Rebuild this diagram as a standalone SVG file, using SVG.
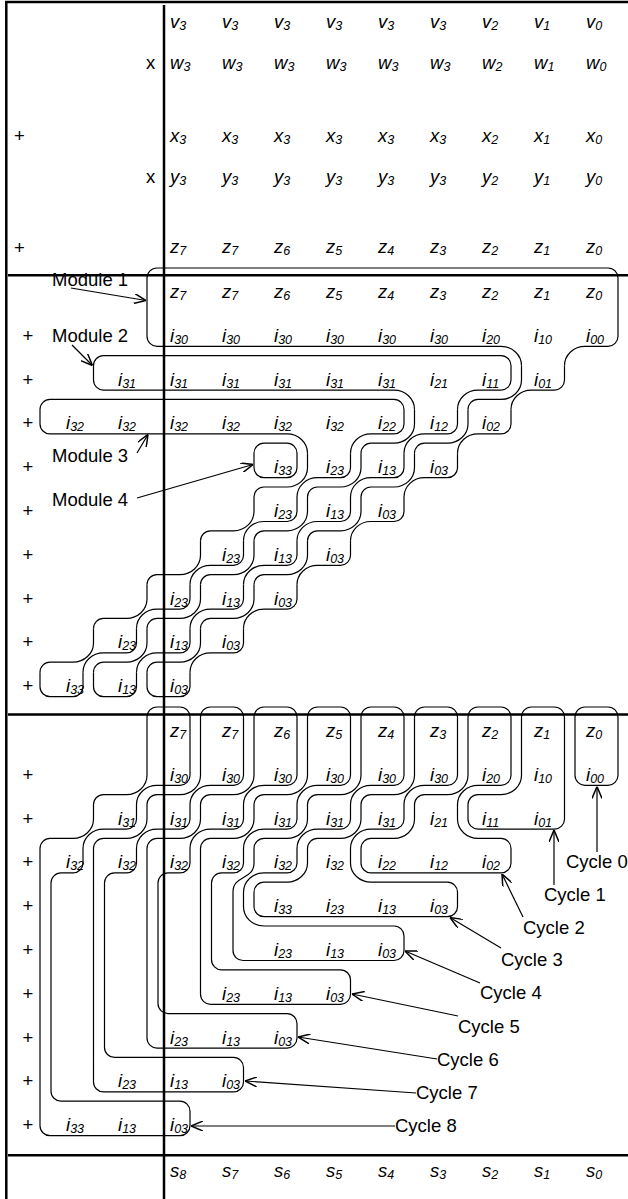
<svg xmlns="http://www.w3.org/2000/svg" width="628" height="1199" viewBox="0 0 628 1199">
<style>
text{font-family:"Liberation Sans",Arial,sans-serif;fill:#000}
.v{font-style:italic;font-size:18.5px}
.s{font-size:12.5px}
.lb{font-size:18.5px}
.sh{fill:none;stroke:#000;stroke-width:1.2;stroke-linejoin:round}
.fr{stroke:#000;stroke-width:2.5;fill:none}
.ar{fill:none;stroke:#000;stroke-width:1.2;marker-end:url(#ah)}
</style>
<defs>
<marker id="ah" viewBox="0 0 12 10" refX="12" refY="5" markerWidth="12" markerHeight="10" markerUnits="userSpaceOnUse" orient="auto"><path d="M0,0 L12,5 L0,10" fill="none" stroke="#000" stroke-width="1.5"/></marker>
<!-- one diagonal step of a chain, from cell (0,0) to cell (-1,1) -->
<g id="step"><path class="sh" d="M147,321.8 V336.3 A20.5,19.3 0 0 1 126.5,355.6 H103.5 A10,10 0 0 0 93.5,365.6"/><path class="sh" d="M190,321.8 V336.3 A10,10 0 0 1 180,346.3 H157 A20.5,19.3 0 0 0 136.5,365.6"/></g>
<!-- closed bottom of the last cell of a chain -->
<path id="tail" class="sh" d="M147,321.8 V336.3 A10,10 0 0 0 157,346.3 H180 A10,10 0 0 0 190,336.3 V321.8"/>
</defs>

<g id="frame">
<line class="fr" x1="5" y1="2" x2="628" y2="2"/>
<line class="fr" x1="6.3" y1="1" x2="6.3" y2="1199"/>
<line class="fr" x1="164" y1="5" x2="164" y2="1199"/>
<line class="fr" x1="8" y1="275.3" x2="628" y2="275.3"/>
<line class="fr" x1="8" y1="714.5" x2="628" y2="714.5"/>
<line class="fr" x1="8" y1="1155.3" x2="628" y2="1155.3"/>
</g>

<g id="operators" class="lb">
<text class="lb" x="146" y="68.5">x</text>
<text class="lb" x="146" y="183">x</text>
<text class="lb" x="14" y="141.5">+</text>
<text class="lb" x="14" y="253.5">+</text>
<text class="lb" x="22.5" y="341.8">+</text>
<text class="lb" x="22.5" y="385.6">+</text>
<text class="lb" x="22.5" y="429.4">+</text>
<text class="lb" x="22.5" y="473.2">+</text>
<text class="lb" x="22.5" y="517">+</text>
<text class="lb" x="22.5" y="560.8">+</text>
<text class="lb" x="22.5" y="604.6">+</text>
<text class="lb" x="22.5" y="648.4">+</text>
<text class="lb" x="22.5" y="692.2">+</text>
<text class="lb" x="22.5" y="780.8">+</text>
<text class="lb" x="22.5" y="824.6">+</text>
<text class="lb" x="22.5" y="868.4">+</text>
<text class="lb" x="22.5" y="912.2">+</text>
<text class="lb" x="22.5" y="956">+</text>
<text class="lb" x="22.5" y="999.8">+</text>
<text class="lb" x="22.5" y="1043.6">+</text>
<text class="lb" x="22.5" y="1087.4">+</text>
<text class="lb" x="22.5" y="1131.2">+</text>
</g>

<g id="operands">
<text class="v" x="170" y="28.3">v<tspan class="s" dy="2">3</tspan></text>
<text class="v" x="222" y="28.3">v<tspan class="s" dy="2">3</tspan></text>
<text class="v" x="274" y="28.3">v<tspan class="s" dy="2">3</tspan></text>
<text class="v" x="326" y="28.3">v<tspan class="s" dy="2">3</tspan></text>
<text class="v" x="378" y="28.3">v<tspan class="s" dy="2">3</tspan></text>
<text class="v" x="430" y="28.3">v<tspan class="s" dy="2">3</tspan></text>
<text class="v" x="482" y="28.3">v<tspan class="s" dy="2">2</tspan></text>
<text class="v" x="534" y="28.3">v<tspan class="s" dy="2">1</tspan></text>
<text class="v" x="586" y="28.3">v<tspan class="s" dy="2">0</tspan></text>
<text class="v" x="170" y="68.5">w<tspan class="s" dy="2">3</tspan></text>
<text class="v" x="222" y="68.5">w<tspan class="s" dy="2">3</tspan></text>
<text class="v" x="274" y="68.5">w<tspan class="s" dy="2">3</tspan></text>
<text class="v" x="326" y="68.5">w<tspan class="s" dy="2">3</tspan></text>
<text class="v" x="378" y="68.5">w<tspan class="s" dy="2">3</tspan></text>
<text class="v" x="430" y="68.5">w<tspan class="s" dy="2">3</tspan></text>
<text class="v" x="482" y="68.5">w<tspan class="s" dy="2">2</tspan></text>
<text class="v" x="534" y="68.5">w<tspan class="s" dy="2">1</tspan></text>
<text class="v" x="586" y="68.5">w<tspan class="s" dy="2">0</tspan></text>
<text class="v" x="170" y="141.5">x<tspan class="s" dy="2">3</tspan></text>
<text class="v" x="222" y="141.5">x<tspan class="s" dy="2">3</tspan></text>
<text class="v" x="274" y="141.5">x<tspan class="s" dy="2">3</tspan></text>
<text class="v" x="326" y="141.5">x<tspan class="s" dy="2">3</tspan></text>
<text class="v" x="378" y="141.5">x<tspan class="s" dy="2">3</tspan></text>
<text class="v" x="430" y="141.5">x<tspan class="s" dy="2">3</tspan></text>
<text class="v" x="482" y="141.5">x<tspan class="s" dy="2">2</tspan></text>
<text class="v" x="534" y="141.5">x<tspan class="s" dy="2">1</tspan></text>
<text class="v" x="586" y="141.5">x<tspan class="s" dy="2">0</tspan></text>
<text class="v" x="170" y="183">y<tspan class="s" dy="2">3</tspan></text>
<text class="v" x="222" y="183">y<tspan class="s" dy="2">3</tspan></text>
<text class="v" x="274" y="183">y<tspan class="s" dy="2">3</tspan></text>
<text class="v" x="326" y="183">y<tspan class="s" dy="2">3</tspan></text>
<text class="v" x="378" y="183">y<tspan class="s" dy="2">3</tspan></text>
<text class="v" x="430" y="183">y<tspan class="s" dy="2">3</tspan></text>
<text class="v" x="482" y="183">y<tspan class="s" dy="2">2</tspan></text>
<text class="v" x="534" y="183">y<tspan class="s" dy="2">1</tspan></text>
<text class="v" x="586" y="183">y<tspan class="s" dy="2">0</tspan></text>
<text class="v" x="170" y="253">z<tspan class="s" dy="2">7</tspan></text>
<text class="v" x="222" y="253">z<tspan class="s" dy="2">7</tspan></text>
<text class="v" x="274" y="253">z<tspan class="s" dy="2">6</tspan></text>
<text class="v" x="326" y="253">z<tspan class="s" dy="2">5</tspan></text>
<text class="v" x="378" y="253">z<tspan class="s" dy="2">4</tspan></text>
<text class="v" x="430" y="253">z<tspan class="s" dy="2">3</tspan></text>
<text class="v" x="482" y="253">z<tspan class="s" dy="2">2</tspan></text>
<text class="v" x="534" y="253">z<tspan class="s" dy="2">1</tspan></text>
<text class="v" x="586" y="253">z<tspan class="s" dy="2">0</tspan></text>
</g>

<g id="terms-modules">
<text class="v" x="170" y="298">z<tspan class="s" dy="2">7</tspan></text>
<text class="v" x="222" y="298">z<tspan class="s" dy="2">7</tspan></text>
<text class="v" x="274" y="298">z<tspan class="s" dy="2">6</tspan></text>
<text class="v" x="326" y="298">z<tspan class="s" dy="2">5</tspan></text>
<text class="v" x="378" y="298">z<tspan class="s" dy="2">4</tspan></text>
<text class="v" x="430" y="298">z<tspan class="s" dy="2">3</tspan></text>
<text class="v" x="482" y="298">z<tspan class="s" dy="2">2</tspan></text>
<text class="v" x="534" y="298">z<tspan class="s" dy="2">1</tspan></text>
<text class="v" x="586" y="298">z<tspan class="s" dy="2">0</tspan></text>
<text class="v" x="170" y="341.8">i<tspan class="s" dy="2">30</tspan></text>
<text class="v" x="222" y="341.8">i<tspan class="s" dy="2">30</tspan></text>
<text class="v" x="274" y="341.8">i<tspan class="s" dy="2">30</tspan></text>
<text class="v" x="326" y="341.8">i<tspan class="s" dy="2">30</tspan></text>
<text class="v" x="378" y="341.8">i<tspan class="s" dy="2">30</tspan></text>
<text class="v" x="430" y="341.8">i<tspan class="s" dy="2">30</tspan></text>
<text class="v" x="482" y="341.8">i<tspan class="s" dy="2">20</tspan></text>
<text class="v" x="534" y="341.8">i<tspan class="s" dy="2">10</tspan></text>
<text class="v" x="586" y="341.8">i<tspan class="s" dy="2">00</tspan></text>
<text class="v" x="118" y="385.6">i<tspan class="s" dy="2">31</tspan></text>
<text class="v" x="170" y="385.6">i<tspan class="s" dy="2">31</tspan></text>
<text class="v" x="222" y="385.6">i<tspan class="s" dy="2">31</tspan></text>
<text class="v" x="274" y="385.6">i<tspan class="s" dy="2">31</tspan></text>
<text class="v" x="326" y="385.6">i<tspan class="s" dy="2">31</tspan></text>
<text class="v" x="378" y="385.6">i<tspan class="s" dy="2">31</tspan></text>
<text class="v" x="430" y="385.6">i<tspan class="s" dy="2">21</tspan></text>
<text class="v" x="482" y="385.6">i<tspan class="s" dy="2">11</tspan></text>
<text class="v" x="534" y="385.6">i<tspan class="s" dy="2">01</tspan></text>
<text class="v" x="66" y="429.4">i<tspan class="s" dy="2">32</tspan></text>
<text class="v" x="118" y="429.4">i<tspan class="s" dy="2">32</tspan></text>
<text class="v" x="170" y="429.4">i<tspan class="s" dy="2">32</tspan></text>
<text class="v" x="222" y="429.4">i<tspan class="s" dy="2">32</tspan></text>
<text class="v" x="274" y="429.4">i<tspan class="s" dy="2">32</tspan></text>
<text class="v" x="326" y="429.4">i<tspan class="s" dy="2">32</tspan></text>
<text class="v" x="378" y="429.4">i<tspan class="s" dy="2">22</tspan></text>
<text class="v" x="430" y="429.4">i<tspan class="s" dy="2">12</tspan></text>
<text class="v" x="482" y="429.4">i<tspan class="s" dy="2">02</tspan></text>
<text class="v" x="274" y="473.2">i<tspan class="s" dy="2">33</tspan></text>
<text class="v" x="326" y="473.2">i<tspan class="s" dy="2">23</tspan></text>
<text class="v" x="378" y="473.2">i<tspan class="s" dy="2">13</tspan></text>
<text class="v" x="430" y="473.2">i<tspan class="s" dy="2">03</tspan></text>
<text class="v" x="274" y="517">i<tspan class="s" dy="2">23</tspan></text>
<text class="v" x="326" y="517">i<tspan class="s" dy="2">13</tspan></text>
<text class="v" x="378" y="517">i<tspan class="s" dy="2">03</tspan></text>
<text class="v" x="222" y="560.8">i<tspan class="s" dy="2">23</tspan></text>
<text class="v" x="274" y="560.8">i<tspan class="s" dy="2">13</tspan></text>
<text class="v" x="326" y="560.8">i<tspan class="s" dy="2">03</tspan></text>
<text class="v" x="170" y="604.6">i<tspan class="s" dy="2">23</tspan></text>
<text class="v" x="222" y="604.6">i<tspan class="s" dy="2">13</tspan></text>
<text class="v" x="274" y="604.6">i<tspan class="s" dy="2">03</tspan></text>
<text class="v" x="118" y="648.4">i<tspan class="s" dy="2">23</tspan></text>
<text class="v" x="170" y="648.4">i<tspan class="s" dy="2">13</tspan></text>
<text class="v" x="222" y="648.4">i<tspan class="s" dy="2">03</tspan></text>
<text class="v" x="66" y="692.2">i<tspan class="s" dy="2">33</tspan></text>
<text class="v" x="118" y="692.2">i<tspan class="s" dy="2">13</tspan></text>
<text class="v" x="170" y="692.2">i<tspan class="s" dy="2">03</tspan></text>
</g>

<g id="terms-cycles">
<text class="v" x="170" y="737">z<tspan class="s" dy="2">7</tspan></text>
<text class="v" x="222" y="737">z<tspan class="s" dy="2">7</tspan></text>
<text class="v" x="274" y="737">z<tspan class="s" dy="2">6</tspan></text>
<text class="v" x="326" y="737">z<tspan class="s" dy="2">5</tspan></text>
<text class="v" x="378" y="737">z<tspan class="s" dy="2">4</tspan></text>
<text class="v" x="430" y="737">z<tspan class="s" dy="2">3</tspan></text>
<text class="v" x="482" y="737">z<tspan class="s" dy="2">2</tspan></text>
<text class="v" x="534" y="737">z<tspan class="s" dy="2">1</tspan></text>
<text class="v" x="586" y="737">z<tspan class="s" dy="2">0</tspan></text>
<text class="v" x="170" y="780.8">i<tspan class="s" dy="2">30</tspan></text>
<text class="v" x="222" y="780.8">i<tspan class="s" dy="2">30</tspan></text>
<text class="v" x="274" y="780.8">i<tspan class="s" dy="2">30</tspan></text>
<text class="v" x="326" y="780.8">i<tspan class="s" dy="2">30</tspan></text>
<text class="v" x="378" y="780.8">i<tspan class="s" dy="2">30</tspan></text>
<text class="v" x="430" y="780.8">i<tspan class="s" dy="2">30</tspan></text>
<text class="v" x="482" y="780.8">i<tspan class="s" dy="2">20</tspan></text>
<text class="v" x="534" y="780.8">i<tspan class="s" dy="2">10</tspan></text>
<text class="v" x="586" y="780.8">i<tspan class="s" dy="2">00</tspan></text>
<text class="v" x="118" y="824.6">i<tspan class="s" dy="2">31</tspan></text>
<text class="v" x="170" y="824.6">i<tspan class="s" dy="2">31</tspan></text>
<text class="v" x="222" y="824.6">i<tspan class="s" dy="2">31</tspan></text>
<text class="v" x="274" y="824.6">i<tspan class="s" dy="2">31</tspan></text>
<text class="v" x="326" y="824.6">i<tspan class="s" dy="2">31</tspan></text>
<text class="v" x="378" y="824.6">i<tspan class="s" dy="2">31</tspan></text>
<text class="v" x="430" y="824.6">i<tspan class="s" dy="2">21</tspan></text>
<text class="v" x="482" y="824.6">i<tspan class="s" dy="2">11</tspan></text>
<text class="v" x="534" y="824.6">i<tspan class="s" dy="2">01</tspan></text>
<text class="v" x="66" y="868.4">i<tspan class="s" dy="2">32</tspan></text>
<text class="v" x="118" y="868.4">i<tspan class="s" dy="2">32</tspan></text>
<text class="v" x="170" y="868.4">i<tspan class="s" dy="2">32</tspan></text>
<text class="v" x="222" y="868.4">i<tspan class="s" dy="2">32</tspan></text>
<text class="v" x="274" y="868.4">i<tspan class="s" dy="2">32</tspan></text>
<text class="v" x="326" y="868.4">i<tspan class="s" dy="2">32</tspan></text>
<text class="v" x="378" y="868.4">i<tspan class="s" dy="2">22</tspan></text>
<text class="v" x="430" y="868.4">i<tspan class="s" dy="2">12</tspan></text>
<text class="v" x="482" y="868.4">i<tspan class="s" dy="2">02</tspan></text>
<text class="v" x="274" y="912.2">i<tspan class="s" dy="2">33</tspan></text>
<text class="v" x="326" y="912.2">i<tspan class="s" dy="2">23</tspan></text>
<text class="v" x="378" y="912.2">i<tspan class="s" dy="2">13</tspan></text>
<text class="v" x="430" y="912.2">i<tspan class="s" dy="2">03</tspan></text>
<text class="v" x="274" y="956">i<tspan class="s" dy="2">23</tspan></text>
<text class="v" x="326" y="956">i<tspan class="s" dy="2">13</tspan></text>
<text class="v" x="378" y="956">i<tspan class="s" dy="2">03</tspan></text>
<text class="v" x="222" y="999.8">i<tspan class="s" dy="2">23</tspan></text>
<text class="v" x="274" y="999.8">i<tspan class="s" dy="2">13</tspan></text>
<text class="v" x="326" y="999.8">i<tspan class="s" dy="2">03</tspan></text>
<text class="v" x="170" y="1043.6">i<tspan class="s" dy="2">23</tspan></text>
<text class="v" x="222" y="1043.6">i<tspan class="s" dy="2">13</tspan></text>
<text class="v" x="274" y="1043.6">i<tspan class="s" dy="2">03</tspan></text>
<text class="v" x="118" y="1087.4">i<tspan class="s" dy="2">23</tspan></text>
<text class="v" x="170" y="1087.4">i<tspan class="s" dy="2">13</tspan></text>
<text class="v" x="222" y="1087.4">i<tspan class="s" dy="2">03</tspan></text>
<text class="v" x="66" y="1131.2">i<tspan class="s" dy="2">33</tspan></text>
<text class="v" x="118" y="1131.2">i<tspan class="s" dy="2">13</tspan></text>
<text class="v" x="170" y="1131.2">i<tspan class="s" dy="2">03</tspan></text>
</g>

<g id="sums">
<text class="v" x="170" y="1177">s<tspan class="s" dy="2">8</tspan></text>
<text class="v" x="222" y="1177">s<tspan class="s" dy="2">7</tspan></text>
<text class="v" x="274" y="1177">s<tspan class="s" dy="2">6</tspan></text>
<text class="v" x="326" y="1177">s<tspan class="s" dy="2">5</tspan></text>
<text class="v" x="378" y="1177">s<tspan class="s" dy="2">4</tspan></text>
<text class="v" x="430" y="1177">s<tspan class="s" dy="2">3</tspan></text>
<text class="v" x="482" y="1177">s<tspan class="s" dy="2">2</tspan></text>
<text class="v" x="534" y="1177">s<tspan class="s" dy="2">1</tspan></text>
<text class="v" x="586" y="1177">s<tspan class="s" dy="2">0</tspan></text>
</g>

<g id="module-1">
<path class="sh" d="M501,346.3 H157 A10,10 0 0 1 147,336.3 V278 A10,10 0 0 1 157,268 H608 A10,10 0 0 1 618,278 V336.3 A10,10 0 0 1 608,346.3 H585 A20.5,19.3 0 0 0 564.5,365.6"/>
<path class="sh" d="M501,346.3 A20.5,19.3 0 0 1 521.5,365.6"/>
<use href="#step" transform="translate(374.5,43.8)"/>
<use href="#step" transform="translate(321,87.6)"/>
<use href="#step" transform="translate(267.5,131.4)"/>
<use href="#step" transform="translate(214,175.2)"/>
<use href="#step" transform="translate(160.5,219)"/>
<use href="#step" transform="translate(107,262.8)"/>
<use href="#step" transform="translate(53.5,306.6)"/>
<use href="#tail" transform="translate(0,350.4)"/>
</g>
<g id="module-2">
<path class="sh" d="M394,390.1 H103.5 A10,10 0 0 1 93.5,380.1 V365.6 A10,10 0 0 1 103.5,355.6 H501 A10,10 0 0 1 511,365.6 V380.1 A10,10 0 0 1 501,390.1 H478 A20.5,19.3 0 0 0 457.5,409.4"/>
<path class="sh" d="M394,390.1 A20.5,19.3 0 0 1 414.5,409.4"/>
<use href="#step" transform="translate(267.5,87.6)"/>
<use href="#step" transform="translate(214,131.4)"/>
<use href="#step" transform="translate(160.5,175.2)"/>
<use href="#step" transform="translate(107,219)"/>
<use href="#step" transform="translate(53.5,262.8)"/>
<use href="#step" transform="translate(0,306.6)"/>
<use href="#tail" transform="translate(-53.5,350.4)"/>
</g>
<g id="module-3">
<path class="sh" d="M287,433.9 H50 A10,10 0 0 1 40,423.9 V409.4 A10,10 0 0 1 50,399.4 H394 A10,10 0 0 1 404,409.4 V423.9 A10,10 0 0 1 394,433.9 H371 A20.5,19.3 0 0 0 350.5,453.2"/>
<path class="sh" d="M287,433.9 A20.5,19.3 0 0 1 307.5,453.2"/>
<use href="#step" transform="translate(160.5,131.4)"/>
<use href="#step" transform="translate(107,175.2)"/>
<use href="#step" transform="translate(53.5,219)"/>
<use href="#step" transform="translate(0,262.8)"/>
<use href="#step" transform="translate(-53.5,306.6)"/>
<use href="#tail" transform="translate(-107,350.4)"/>
</g>
<g id="module-4">
<rect class="sh" x="254" y="443.2" width="43" height="34.5" rx="10"/>
</g>

<g id="cycle-0"><rect class="sh" x="575" y="707" width="43" height="78.3" rx="10"/></g>
<g id="cycle-1"><path class="sh" d="M521.5,717 A10,10 0 0 1 531.5,707 H554.5 A10,10 0 0 1 564.5,717 V819.1 A10,10 0 0 1 554.5,829.1 H478 A10,10 0 0 1 468,819.1 V804.6 A10,10 0 0 1 478,794.6 H501 A20.5,19.3 0 0 0 521.5,775.3 Z"/></g>
<g id="cycle-2"><path class="sh" d="M468,717 A10,10 0 0 1 478,707 H501 A10,10 0 0 1 511,717 V775.3 A10,10 0 0 1 501,785.3 H478 A20.5,19.3 0 0 0 457.5,804.6 V819.1 A20.5,19.3 0 0 0 478,838.4 H501 A10,10 0 0 1 511,848.4 V862.9 A10,10 0 0 1 501,872.9 H371 A10,10 0 0 1 361,862.9 V848.4 A10,10 0 0 1 371,838.4 H394 A20.5,19.3 0 0 0 414.5,819.1 V804.6 A10,10 0 0 1 424.5,794.6 H447.5 A20.5,19.3 0 0 0 468,775.3 Z"/></g>
<g id="cycle-3"><path class="sh" d="M414.5,717 A10,10 0 0 1 424.5,707 H447.5 A10,10 0 0 1 457.5,717 V775.3 A10,10 0 0 1 447.5,785.3 H424.5 A20.5,19.3 0 0 0 404,804.6 V819.1 A10,10 0 0 1 394,829.1 H371 A20.5,19.3 0 0 0 350.5,848.4 V862.9 A20.5,19.3 0 0 0 371,882.2 H447.5 A10,10 0 0 1 457.5,892.2 V906.7 A10,10 0 0 1 447.5,916.7 H264 A10,10 0 0 1 254,906.7 V892.2 A10,10 0 0 1 264,882.2 H287 A20.5,19.3 0 0 0 307.5,862.9 V848.4 A10,10 0 0 1 317.5,838.4 H340.5 A20.5,19.3 0 0 0 361,819.1 V804.6 A10,10 0 0 1 371,794.6 H394 A20.5,19.3 0 0 0 414.5,775.3 Z"/></g>
<g id="cycle-4"><path class="sh" d="M361,717 A10,10 0 0 1 371,707 H394 A10,10 0 0 1 404,717 V775.3 A10,10 0 0 1 394,785.3 H371 A20.5,19.3 0 0 0 350.5,804.6 V819.1 A10,10 0 0 1 340.5,829.1 H317.5 A20.5,19.3 0 0 0 297,848.4 V862.9 A10,10 0 0 1 287,872.9 H264 A20.5,19.3 0 0 0 243.5,892.2 V906.7 A20.5,19.3 0 0 0 264,926 H394 A10,10 0 0 1 404,936 V950.5 A10,10 0 0 1 394,960.5 H243 A10,10 0 0 1 233,950.5 V892 C233,875 254,880 254,862.9 V848.4 A10,10 0 0 1 264,838.4 H287 A20.5,19.3 0 0 0 307.5,819.1 V804.6 A10,10 0 0 1 317.5,794.6 H340.5 A20.5,19.3 0 0 0 361,775.3 Z"/></g>
<g id="cycle-5"><path class="sh" d="M307.5,717 A10,10 0 0 1 317.5,707 H340.5 A10,10 0 0 1 350.5,717 V775.3 A10,10 0 0 1 340.5,785.3 H317.5 A20.5,19.3 0 0 0 297,804.6 V819.1 A10,10 0 0 1 287,829.1 H264 A20.5,19.3 0 0 0 243.5,848.4 V862.9 A10,10 0 0 1 233.5,872.9 H221.5 A10,10 0 0 0 211.5,882.9 V959.8 A10,10 0 0 0 221.5,969.8 H340.5 A10,10 0 0 1 350.5,979.8 V994.3 A10,10 0 0 1 340.5,1004.3 H210.5 A10,10 0 0 1 200.5,994.3 V848.4 A10,10 0 0 1 210.5,838.4 H233.5 A20.5,19.3 0 0 0 254,819.1 V804.6 A10,10 0 0 1 264,794.6 H287 A20.5,19.3 0 0 0 307.5,775.3 Z"/></g>
<g id="cycle-6"><path class="sh" d="M254,717 A10,10 0 0 1 264,707 H287 A10,10 0 0 1 297,717 V775.3 A10,10 0 0 1 287,785.3 H264 A20.5,19.3 0 0 0 243.5,804.6 V819.1 A10,10 0 0 1 233.5,829.1 H210.5 A20.5,19.3 0 0 0 190,848.4 V862.9 A10,10 0 0 1 180,872.9 H168 A10,10 0 0 0 158,882.9 V1003.6 A10,10 0 0 0 168,1013.6 H287 A10,10 0 0 1 297,1023.6 V1038.1 A10,10 0 0 1 287,1048.1 H157 A10,10 0 0 1 147,1038.1 V848.4 A10,10 0 0 1 157,838.4 H180 A20.5,19.3 0 0 0 200.5,819.1 V804.6 A10,10 0 0 1 210.5,794.6 H233.5 A20.5,19.3 0 0 0 254,775.3 Z"/></g>
<g id="cycle-7"><path class="sh" d="M200.5,717 A10,10 0 0 1 210.5,707 H233.5 A10,10 0 0 1 243.5,717 V775.3 A10,10 0 0 1 233.5,785.3 H210.5 A20.5,19.3 0 0 0 190,804.6 V819.1 A10,10 0 0 1 180,829.1 H157 A20.5,19.3 0 0 0 136.5,848.4 V862.9 A10,10 0 0 1 126.5,872.9 H114.5 A10,10 0 0 0 104.5,882.9 V1047.4 A10,10 0 0 0 114.5,1057.4 H233.5 A10,10 0 0 1 243.5,1067.4 V1081.9 A10,10 0 0 1 233.5,1091.9 H103.5 A10,10 0 0 1 93.5,1081.9 V848.4 A10,10 0 0 1 103.5,838.4 H126.5 A20.5,19.3 0 0 0 147,819.1 V804.6 A10,10 0 0 1 157,794.6 H180 A20.5,19.3 0 0 0 200.5,775.3 Z"/></g>
<g id="cycle-8"><path class="sh" d="M147,717 A10,10 0 0 1 157,707 H180 A10,10 0 0 1 190,717 V775.3 A10,10 0 0 1 180,785.3 H157 A20.5,19.3 0 0 0 136.5,804.6 V819.1 A10,10 0 0 1 126.5,829.1 H103.5 A20.5,19.3 0 0 0 83,848.4 V862.9 A10,10 0 0 1 73,872.9 H61 A10,10 0 0 0 51,882.9 V1091.2 A10,10 0 0 0 61,1101.2 H180 A10,10 0 0 1 190,1111.2 V1125.7 A10,10 0 0 1 180,1135.7 H50 A10,10 0 0 1 40,1125.7 V848.4 A10,10 0 0 1 50,838.4 H73 A20.5,19.3 0 0 0 93.5,819.1 V804.6 A10,10 0 0 1 103.5,794.6 H126.5 A20.5,19.3 0 0 0 147,775.3 Z"/></g>

<g id="connectors">
<path class="ar" d="M71,288 L146,300.5"/>
<path class="ar" d="M72,345 L92.5,365.5"/>
<path class="ar" d="M137,453 L148,434.5"/>
<path class="ar" d="M137,498 L253,464.5"/>
<path class="ar" d="M597,852 L597,786.5"/>
<path class="ar" d="M554,885 L554,830"/>
<path class="ar" d="M523,917 L502,874"/>
<path class="ar" d="M501,948 L450,917.5"/>
<path class="ar" d="M480,983 L405,951"/>
<path class="ar" d="M458,1016 L352,994"/>
<path class="ar" d="M437,1059 L298,1037"/>
<path class="ar" d="M416,1093 L245,1081"/>
<path class="ar" d="M395,1126 L191,1126"/>
</g>

<g id="labels">
<text class="lb" x="52" y="286">Module 1</text>
<text class="lb" x="52" y="341.7">Module 2</text>
<text class="lb" x="52" y="461.5">Module 3</text>
<text class="lb" x="52" y="506">Module 4</text>
<text class="lb" x="566" y="868">Cycle 0</text>
<text class="lb" x="544" y="901">Cycle 1</text>
<text class="lb" x="523" y="934">Cycle 2</text>
<text class="lb" x="501" y="966">Cycle 3</text>
<text class="lb" x="480" y="999">Cycle 4</text>
<text class="lb" x="458" y="1033">Cycle 5</text>
<text class="lb" x="437" y="1066">Cycle 6</text>
<text class="lb" x="416" y="1099">Cycle 7</text>
<text class="lb" x="395" y="1132">Cycle 8</text>
</g>
</svg>
